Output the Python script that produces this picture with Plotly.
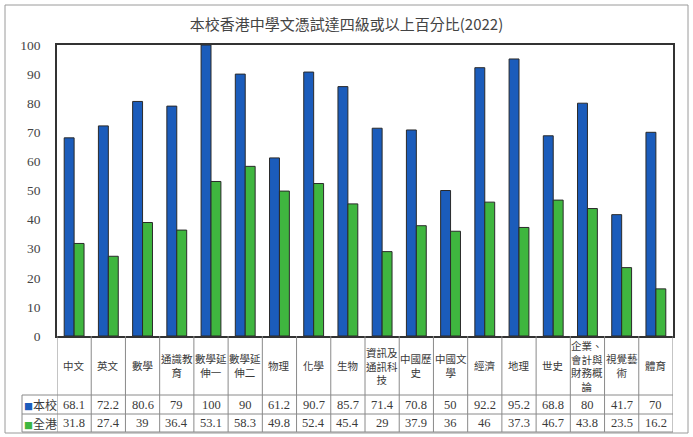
import plotly.graph_objects as go

categories = ["中文", "英文", "數學", "通識教育", "數學延伸一", "數學延伸二", "物理", "化學", "生物",
              "資訊及通訊科技", "中國歷史", "中國文學", "經濟", "地理", "世史", "企業、會計與財務概論",
              "視覺藝術", "體育"]
category_labels = ["中文", "英文", "數學", "通識教<br>育", "數學延<br>伸一", "數學延<br>伸二", "物理", "化學",
                   "生物", "資訊及<br>通訊科<br>技", "中國歷<br>史", "中國文<br>學", "經濟", "地理", "世史",
                   "企業、<br>會計與<br>財務概<br>論", "視覺藝<br>術", "體育"]
school = [68.1, 72.2, 80.6, 79, 100, 90, 61.2, 90.7, 85.7, 71.4, 70.8, 50, 92.2, 95.2, 68.8, 80, 41.7, 70]
hk = [31.8, 27.4, 39, 36.4, 53.1, 58.3, 49.8, 52.4, 45.4, 29, 37.9, 36, 46, 37.3, 46.7, 43.8, 23.5, 16.2]
series_names = ["本校", "全港"]
title_text = "本校香港中學文憑試達四級或以上百分比(2022)"
y_ticks = [0, 10, 20, 30, 40, 50, 60, 70, 80, 90, 100]

BLUE = "#1b5cbb"
GREEN = "#3fb63f"
W, H = 693, 437
L, R, T, B = 57, 673, 45, 336
pw, ph = R - L, B - T

n = len(categories)
xs = list(range(n))


def py(p):
    return (B - p) / ph


def px(p):
    return (p - L) / pw


fig = go.Figure()
fig.add_trace(go.Bar(x=xs, y=school, name=series_names[0], marker=dict(color=BLUE, line=dict(color="#2a2a2a", width=1))))
fig.add_trace(go.Bar(x=xs, y=hk, name=series_names[1], marker=dict(color=GREEN, line=dict(color="#2a2a2a", width=1))))

shapes = []
line_c = "#8a8a8a"
# outer frame
shapes.append(dict(type="rect", xref="paper", yref="paper", x0=px(5), x1=px(688), y0=py(433), y1=py(5),
                   line=dict(color="#9a9a9a", width=1)))
# table vertical lines
for i in range(n + 1):
    shapes.append(dict(type="line", xref="x", yref="paper", x0=i - 0.5, x1=i - 0.5, y0=py(336), y1=py(432),
                       line=dict(color=line_c, width=1)))
# table horizontal lines
for yy in [395, 414, 432]:
    shapes.append(dict(type="line", xref="paper", yref="paper", x0=px(22), x1=1, y0=py(yy), y1=py(yy),
                       line=dict(color=line_c, width=1)))
shapes.append(dict(type="line", xref="paper", yref="paper", x0=px(22), x1=px(22), y0=py(395), y1=py(432),
                   line=dict(color=line_c, width=1)))

ann = []
txt_c = "#3a3a3a"
for i, lab in enumerate(category_labels):
    ann.append(dict(x=i, y=py(365.5), xref="x", yref="paper", text=lab, showarrow=False, borderpad=0,
                    font=dict(size=10.5, color=txt_c, family="Noto Sans CJK TC"), yanchor="middle", align="center"))
    ann.append(dict(x=i, y=py(404.5), xref="x", yref="paper", text=str(school[i]), showarrow=False,
                    font=dict(size=12.5, color=txt_c, family="Liberation Serif"), yanchor="middle"))
    ann.append(dict(x=i, y=py(423), xref="x", yref="paper", text=str(hk[i]), showarrow=False,
                    font=dict(size=12.5, color=txt_c, family="Liberation Serif"), yanchor="middle"))
for name, col, yy in [(series_names[0], BLUE, 404.5), (series_names[1], GREEN, 423)]:
    ann.append(dict(x=px(22.5), y=py(yy), xref="paper", yref="paper", xanchor="left", yanchor="middle",
                    text=f'<span style="color:{col};font-size:9px">■</span>{name}', showarrow=False, borderpad=0,
                    font=dict(size=12, color=txt_c, family="Noto Sans CJK TC")))

fig.update_layout(
    width=W, height=H,
    margin=dict(l=L, r=W - R, t=T, b=H - B),
    paper_bgcolor="white", plot_bgcolor="white",
    barmode="group", bargap=0.42, bargroupgap=0,
    showlegend=False,
    title=dict(text=title_text, x=0.5, xanchor="center", y=1 - 25 / H, yanchor="middle",
               font=dict(size=15, color="#444", family="Noto Sans CJK TC")),
    xaxis=dict(range=[-0.5, n - 0.5], showticklabels=False, showgrid=False, zeroline=False,
               showline=True, mirror=True, linecolor="#333", linewidth=1.5, fixedrange=True),
    yaxis=dict(range=[0, 100], tickvals=y_ticks, showgrid=False, zeroline=False,
               showline=True, mirror=True, linecolor="#333", linewidth=1.5,
               ticks="outside", ticklen=0, ticklabelstandoff=12,
               tickfont=dict(size=13.5, color="#444", family="Liberation Serif")),
    shapes=shapes, annotations=ann,
    font=dict(family="Noto Sans CJK TC"),
)
fig.write_html("out.html", config={"displayModeBar": False},
               post_script="document.body.style.margin='0';document.body.style.overflow='hidden';")
